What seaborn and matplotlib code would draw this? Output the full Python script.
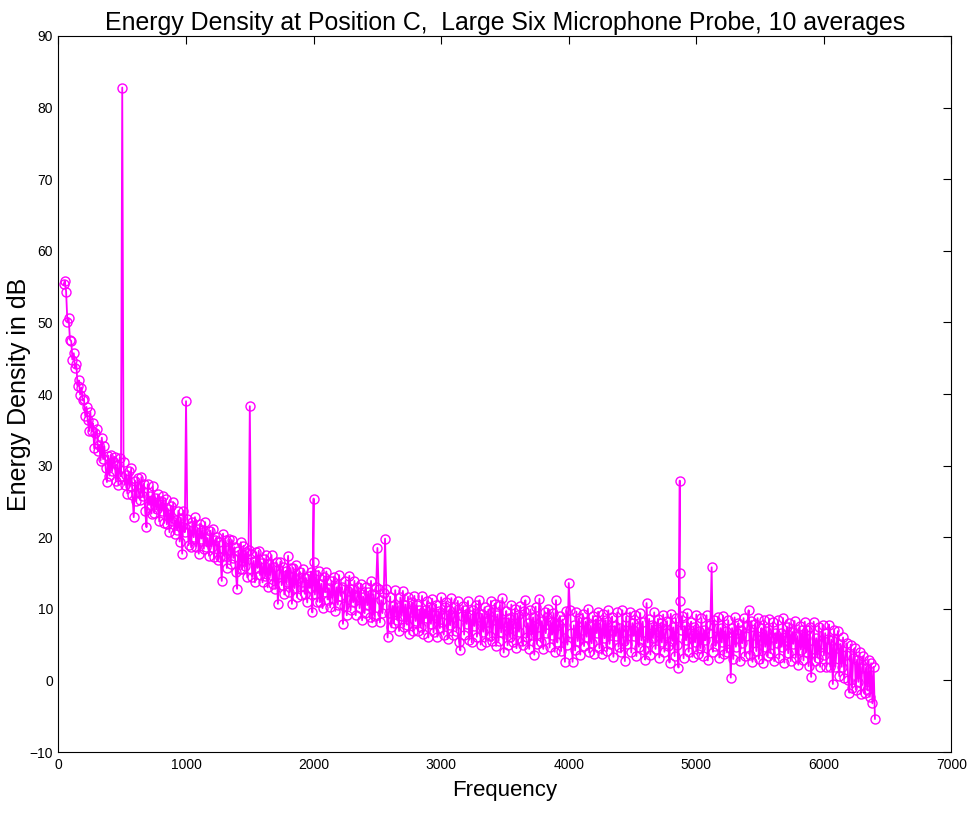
import numpy as np
import pandas as pd
import matplotlib
matplotlib.use('Agg')
import matplotlib.pyplot as plt
import seaborn as sns

# frequency bins (Hz), 10 Hz apart
freq = np.arange(40, 6401, 10)

# energy density in dB, one row = 200 Hz
energia = [
    55.3, 55.8, 54.3, 50.1, 50.6, 47.6, 47.4, 44.8, 45.7, 43.6, 44.2, 41.1, 41.9, 39.9, 40.9, 39.1, 39.3, 36.9, 38.2, 36.3,
    34.8, 37.5, 34.8, 35.9, 32.4, 34.6, 35.1, 32.0, 32.9, 30.7, 33.9, 30.9, 32.7, 29.7, 27.7, 31.4, 28.6, 31.5, 29.2, 30.7,
    31.2, 27.8, 30.1, 27.3, 31.1, 28.5, 82.8, 30.5, 27.3, 28.7, 26.1, 29.2, 27.1, 29.6, 25.9, 22.8, 27.9, 25.0, 28.3, 26.2,
    25.2, 28.4, 25.8, 27.5, 23.6, 21.4, 27.4, 24.5, 25.7, 23.3, 27.1, 23.4, 25.5, 23.9, 26.0, 22.2, 25.1, 23.7, 25.7, 22.0,
    25.4, 21.8, 23.9, 20.7, 24.4, 22.3, 24.9, 20.5, 22.4, 21.0, 23.7, 19.4, 22.7, 17.7, 23.7, 20.7, 39.0, 22.5, 18.9, 21.5,
    18.6, 22.1, 20.0, 22.8, 18.7, 21.2, 17.7, 21.9, 19.8, 21.0, 18.4, 22.1, 18.7, 19.9, 17.4, 20.9, 18.7, 21.2, 17.2, 19.6,
    20.0, 16.8, 19.4, 17.3, 13.9, 20.5, 17.4, 19.6, 15.7, 18.2, 19.7, 16.2, 19.6, 17.1, 18.6, 15.2, 12.8, 18.1, 15.5, 19.3,
    15.5, 18.8, 16.0, 18.0, 14.4, 18.2, 38.3, 17.6, 14.5, 16.7, 13.7, 17.9, 15.7, 18.1, 14.7, 16.4, 13.7, 17.0, 14.6, 17.5,
    13.0, 16.3, 14.7, 17.5, 13.4, 15.8, 12.8, 16.5, 10.7, 14.9, 16.6, 13.3, 15.9, 12.0, 15.3, 13.7, 17.4, 12.3, 15.7, 10.7,
    15.7, 12.9, 16.1, 11.6, 14.3, 15.2, 11.9, 13.7, 15.6, 12.1, 14.3, 10.9, 14.6, 12.9, 15.2, 9.5, 25.4, 12.0, 14.7, 11.0,
    15.3, 10.9, 13.5, 10.1, 14.5, 12.3, 15.2, 11.3, 12.9, 10.2, 13.9, 11.5, 14.5, 9.7, 13.0, 10.6, 14.7, 11.8, 13.0, 7.9,
    10.4, 13.9, 9.1, 12.5, 14.6, 9.8, 12.7, 10.9, 13.9, 9.1, 11.6, 13.0, 10.1, 13.5, 8.4, 11.7, 9.4, 13.0, 10.5, 12.3,
    8.8, 13.9, 8.1, 12.0, 9.0, 13.0, 18.5, 12.7, 8.1, 11.2, 9.4, 12.2, 19.8, 12.7, 6.0, 9.4, 11.7, 7.4, 10.4, 8.0,
    12.6, 8.5, 10.3, 6.9, 11.6, 9.0, 12.5, 7.5, 10.6, 7.8, 11.7, 6.5, 9.5, 10.9, 6.9, 11.8, 8.3, 10.5, 6.9, 9.8,
    7.4, 11.8, 6.5, 9.9, 8.7, 11.1, 6.0, 10.3, 7.9, 11.4, 6.7, 9.2, 10.6, 6.1, 9.7, 7.3, 11.6, 8.1, 6.4, 10.2,
    11.0, 5.8, 9.8, 7.7, 11.5, 6.3, 8.8, 10.3, 6.9, 11.1, 5.4, 4.2, 9.0, 10.4, 6.4, 9.8, 7.9, 11.1, 5.7, 9.1,
    5.3, 9.9, 7.6, 10.6, 6.1, 8.9, 11.2, 5.0, 9.3, 6.8, 10.2, 5.4, 8.1, 9.9, 6.2, 11.1, 5.5, 8.5, 10.7, 4.8,
    9.2, 5.5, 10.5, 6.7, 11.5, 3.9, 8.2, 9.7, 4.9, 8.7, 6.0, 10.6, 5.4, 8.0, 10.0, 4.5, 9.2, 6.8, 10.4, 5.5,
    4.9, 9.7, 11.2, 6.0, 8.0, 4.4, 9.9, 6.4, 8.8, 3.6, 10.3, 5.1, 7.4, 11.4, 5.4, 8.3, 4.4, 9.6, 6.6, 8.9,
    10.0, 4.6, 8.2, 6.4, 9.4, 4.0, 11.2, 5.3, 7.7, 9.0, 4.1, 8.5, 5.9, 2.6, 9.7, 5.0, 13.6, 9.9, 6.6, 2.6,
    7.7, 4.2, 9.6, 5.5, 8.7, 3.6, 7.1, 9.3, 4.8, 8.2, 6.1, 10.0, 3.9, 7.6, 5.2, 9.0, 3.7, 8.5, 6.6, 9.6,
    4.5, 7.9, 3.7, 9.3, 5.9, 8.4, 4.1, 9.8, 5.1, 7.1, 8.9, 3.3, 7.6, 6.2, 9.5, 4.7, 7.3, 3.9, 9.8, 5.5,
    2.7, 8.9, 5.1, 7.1, 9.5, 3.9, 8.0, 6.2, 9.1, 3.4, 7.4, 4.7, 9.4, 5.6, 8.2, 4.2, 2.9, 10.8, 5.3, 8.6,
    3.6, 7.7, 5.9, 9.5, 4.4, 7.2, 8.6, 3.2, 8.0, 5.3, 9.2, 4.0, 6.6, 8.3, 4.8, 2.5, 9.3, 5.5, 7.4, 3.4,
    8.7, 4.9, 1.8, 27.9, 7.1, 9.0, 3.1, 7.6, 5.6, 9.4, 4.0, 6.6, 8.2, 3.3, 7.4, 5.3, 9.2, 3.7, 6.9, 4.5,
    8.7, 3.4, 7.0, 5.6, 9.1, 2.8, 6.6, 7.8, 15.8, 4.0, 8.4, 4.8, 6.2, 8.9, 3.2, 7.3, 5.3, 9.0, 3.7, 6.9,
    3.9, 8.4, 5.5, 0.4, 7.3, 3.0, 8.8, 4.7, 6.6, 8.0, 2.7, 7.0, 5.2, 8.7, 3.4, 6.2, 7.7, 9.8, 3.6, 8.3,
    2.6, 6.3, 7.9, 4.1, 8.7, 3.0, 5.7, 7.3, 2.4, 8.4, 4.7, 6.9, 3.4, 8.6, 3.8, 6.1, 8.1, 2.7, 6.6, 5.2,
    8.4, 3.1, 6.6, 4.7, 8.7, 2.5, 6.1, 7.5, 3.8, 8.0, 2.7, 6.8, 5.1, 8.3, 3.2, 6.2, 2.2, 7.6, 4.3, 7.0,
    2.8, 8.2, 3.9, 7.0, 2.0, 7.5, 0.5, 4.4, 8.2, 2.7, 5.9, 3.2, 7.5, 1.9, 5.1, 7.8, 3.5, 6.6, 1.9, 5.8,
    7.8, 1.9, 5.7, -0.5, 7.1, 1.9, 4.5, 6.9, 0.6, 5.1, 1.9, 6.0, 0.3, 3.5, 5.2, 0.0, -1.7, 5.0, -1.0, 3.2,
    4.5, -1.3, 2.9, -0.2, 3.9, -1.9, 1.7, 3.4, -1.8, 1.8, -1.4, 2.8, -2.3, 2.4, -3.2, 1.9, -5.4,
]

# extra samples that share a bin with a peak
extra_freq = [2000, 4870, 4870]
extra_energia = [16.6, 15.0, 11.1]

df = pd.DataFrame({'freq': freq, 'energia': energia})
df_extra = pd.DataFrame({'freq': extra_freq, 'energia': extra_energia})
df = pd.concat([df, df_extra], ignore_index=True)
df = df.sort_values('freq', kind='stable').reset_index(drop=True)

sns.set_style('white')
plt.rcParams['font.family'] = ['Liberation Sans', 'DejaVu Sans']
plt.rcParams['text.color'] = 'black'

fig = plt.figure(figsize=(9.71, 8.16), dpi=100)
ax = fig.add_axes([0.0602, 0.0784, 0.9197, 0.8775])

sns.lineplot(data=df, x='freq', y='energia', estimator=None, sort=False,
             color='#ff00ff', linewidth=1.3, marker='o', markersize=6.5,
             markerfacecolor='none', markeredgecolor='#ff00ff',
             markeredgewidth=1.0, ax=ax)

ax.set_xlim(0, 7000)
ax.set_ylim(-10, 90)
ax.set_xticks(range(0, 7001, 1000))
ax.set_yticks(range(-10, 91, 10))
ax.tick_params(direction='in', top=True, right=True, length=6, width=0.8,
               labelsize=10, pad=4, colors='black')
for s in ax.spines.values():
    s.set_color('black')
    s.set_linewidth(0.8)

ax.set_title('Energy Density at Position C,  Large Six Microphone Probe, 10 averages',
             fontsize=17.9, pad=4, color='black')
ax.set_xlabel('Frequency', fontsize=16, labelpad=6, color='black')
ax.set_ylabel('Energy Density in dB', fontsize=18, color='black')
ax.yaxis.set_label_coords(-0.031, 0.5)

fig.savefig('out.png', dpi=100)
